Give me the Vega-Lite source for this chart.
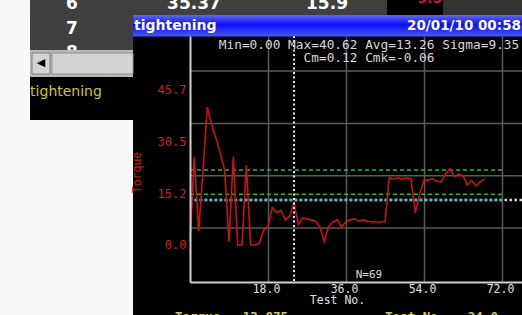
{
  "$schema": "https://vega.github.io/schema/vega-lite/v6.json",
  "width": 332,
  "height": 246,
  "autosize": {"type": "none"},
  "padding": {"left": 190, "top": 36, "right": 0, "bottom": 33},
  "background": "#000000",
  "config": {"view": {"stroke": null}},
  "datasets": {
    "torque": [
      {"test": 0, "torque": 1.0}, {"test": 1, "torque": 26.0}, {"test": 2, "torque": 4.0}, {"test": 3, "torque": 22.0},
      {"test": 4, "torque": 40.62}, {"test": 5, "torque": 35.5}, {"test": 6, "torque": 31.5}, {"test": 7, "torque": 27.0},
      {"test": 8, "torque": 22.0}, {"test": 9, "torque": 1.0}, {"test": 10, "torque": 26.0}, {"test": 11, "torque": 0.0},
      {"test": 12, "torque": 0.0}, {"test": 13, "torque": 23.6}, {"test": 14, "torque": 0.0}, {"test": 15, "torque": 0.0},
      {"test": 16, "torque": 0.5}, {"test": 17, "torque": 4.4}, {"test": 18, "torque": 5.5}, {"test": 19, "torque": 11.0},
      {"test": 20, "torque": 9.5}, {"test": 21, "torque": 10.3}, {"test": 22, "torque": 7.4}, {"test": 23, "torque": 8.5},
      {"test": 24, "torque": 12.5}, {"test": 25, "torque": 6.0}, {"test": 26, "torque": 8.0}, {"test": 27, "torque": 7.7},
      {"test": 28, "torque": 7.4}, {"test": 29, "torque": 7.0}, {"test": 30, "torque": 5.3}, {"test": 31, "torque": 1.0},
      {"test": 32, "torque": 5.5}, {"test": 33, "torque": 6.8}, {"test": 34, "torque": 7.4}, {"test": 35, "torque": 5.3},
      {"test": 36, "torque": 7.0}, {"test": 37, "torque": 7.4}, {"test": 38, "torque": 7.7}, {"test": 39, "torque": 7.0},
      {"test": 40, "torque": 7.4}, {"test": 41, "torque": 7.0}, {"test": 42, "torque": 6.8}, {"test": 43, "torque": 6.8},
      {"test": 44, "torque": 6.8}, {"test": 45, "torque": 7.0}, {"test": 46, "torque": 19.8}, {"test": 47, "torque": 19.5},
      {"test": 48, "torque": 19.8}, {"test": 49, "torque": 19.5}, {"test": 50, "torque": 19.8}, {"test": 51, "torque": 19.5},
      {"test": 52, "torque": 9.5}, {"test": 53, "torque": 15.0}, {"test": 54, "torque": 19.0}, {"test": 55, "torque": 19.2},
      {"test": 56, "torque": 19.5}, {"test": 57, "torque": 18.8}, {"test": 58, "torque": 18.6}, {"test": 59, "torque": 21.0},
      {"test": 60, "torque": 22.5}, {"test": 61, "torque": 20.2}, {"test": 62, "torque": 20.8}, {"test": 63, "torque": 20.5},
      {"test": 64, "torque": 17.7}, {"test": 65, "torque": 19.0}, {"test": 66, "torque": 17.4}, {"test": 67, "torque": 18.6},
      {"test": 68, "torque": 19.5}
    ],
    "hgrid": [{"level": 5.01}, {"level": 20.43}, {"level": 35.85}, {"level": 51.27}],
    "limits": [{"limit": "upper", "torque": 22.1, "from": 0, "to": 72}, {"limit": "lower", "torque": 14.95, "from": 0, "to": 72}],
    "average": [{"torque": 13.26, "from": 0, "to": 72}],
    "cursor": [{"test": 24.0, "torque": 13.26}]
  },
  "layer": [
    {
      "data": {"name": "hgrid"},
      "mark": {"type": "rule", "color": "#5a5a5a", "strokeWidth": 1.5},
      "encoding": {
        "y": {"field": "level", "type": "quantitative", "scale": {"domain": [-10.91, 61.61], "nice": false, "zero": false}}
      }
    },
    {
      "data": {"name": "limits"},
      "mark": {"type": "rule", "color": "#2cb82c", "strokeWidth": 1.5, "strokeDash": [4, 3]},
      "encoding": {
        "x": {"field": "from", "type": "quantitative", "scale": {"domain": [0, 76.62], "nice": false, "zero": false}},
        "x2": {"field": "to"},
        "y": {"field": "torque", "type": "quantitative", "scale": {"domain": [-10.91, 61.61], "nice": false, "zero": false}}
      }
    },
    {
      "data": {"name": "cursor"},
      "mark": {"type": "rule", "color": "#d8d8d8", "strokeWidth": 2.5, "strokeDash": [2.5, 2.5]},
      "encoding": {
        "y": {"field": "torque", "type": "quantitative", "scale": {"domain": [-10.91, 61.61], "nice": false, "zero": false}}
      }
    },
    {
      "data": {"name": "average"},
      "mark": {"type": "rule", "color": "#30c4d4", "strokeWidth": 2.5, "strokeDash": [2.5, 2.5]},
      "encoding": {
        "x": {"field": "from", "type": "quantitative", "scale": {"domain": [0, 76.62], "nice": false, "zero": false}},
        "x2": {"field": "to"},
        "y": {"field": "torque", "type": "quantitative", "scale": {"domain": [-10.91, 61.61], "nice": false, "zero": false}}
      }
    },
    {
      "data": {"name": "torque"},
      "mark": {"type": "line", "color": "#c81414", "strokeWidth": 1.6},
      "encoding": {
        "x": {
          "field": "test", "type": "quantitative",
          "scale": {"domain": [0, 76.62], "nice": false, "zero": false},
          "axis": {
            "values": [18, 36, 54, 72], "format": ".1f", "grid": true, "gridColor": "#5a5a5a", "gridWidth": 1.5,
            "ticks": false, "domainColor": "#d0d0d0", "domainWidth": 2,
            "labelColor": "#e0e0e0", "labelFont": "DejaVu Sans Mono", "labelFontSize": 11.5, "labelPadding": 1, "labelFlush": false, "labelOffset": -2,
            "title": "Test No.", "titleColor": "#e0e0e0", "titleFont": "DejaVu Sans Mono", "titleFontSize": 11.5, "titleFontWeight": "normal",
            "titleX": 147, "titleY": 18.5, "titleBaseline": "middle"
          }
        },
        "y": {
          "field": "torque", "type": "quantitative",
          "scale": {"domain": [-10.91, 61.61], "nice": false, "zero": false},
          "axis": {
            "values": [0, 15.2, 30.5, 45.7], "format": ".1f", "grid": false, "ticks": false,
            "domainColor": "#d0d0d0", "domainWidth": 2,
            "labelColor": "#d81c1c", "labelFont": "DejaVu Sans Mono", "labelFontSize": 12, "labelPadding": 4,
            "title": "Torque", "titleColor": "#d81c1c", "titleFont": "DejaVu Sans Mono", "titleFontSize": 11.5, "titleFontWeight": "normal",
            "titleX": -53, "titleY": 136, "titleBaseline": "middle", "zindex": 1
          }
        }
      }
    },
    {
      "data": {"name": "cursor"},
      "mark": {"type": "rule", "color": "#e8e8e8", "strokeWidth": 2, "strokeDash": [2, 2.5]},
      "encoding": {
        "x": {"field": "test", "type": "quantitative", "scale": {"domain": [0, 76.62], "nice": false, "zero": false}}
      }
    },
    {
      "data": {"values": [{"label": "Min=0.00 Max=40.62 Avg=13.26 Sigma=9.35\nCm=0.12 Cmk=-0.06"}]},
      "mark": {"type": "text", "color": "#d8d8d8", "font": "DejaVu Sans Mono", "fontSize": 12.8, "baseline": "top", "align": "center", "lineBreak": "\n", "lineHeight": 13.5, "clip": false},
      "encoding": {"x": {"datum": 41.31}, "y": {"datum": 60.73}, "text": {"field": "label"}}
    },
    {
      "data": {"values": [{"label": "N=69"}]},
      "mark": {"type": "text", "color": "#d8d8d8", "font": "DejaVu Sans Mono", "fontSize": 11, "baseline": "middle", "align": "center", "clip": false},
      "encoding": {"x": {"datum": 41.31}, "y": {"datum": -8.7}, "text": {"field": "label"}}
    },
    {
      "data": {"values": [{"label": "Torque = 13.875"}]},
      "mark": {"type": "text", "color": "#d2d22a", "font": "DejaVu Sans Mono", "fontSize": 12.5, "fontWeight": "bold", "baseline": "middle", "align": "center", "clip": false},
      "encoding": {"x": {"datum": 9.58}, "y": {"datum": -21.2}, "text": {"field": "label"}}
    },
    {
      "data": {"values": [{"label": "Test No. = 24.0"}]},
      "mark": {"type": "text", "color": "#d2d22a", "font": "DejaVu Sans Mono", "fontSize": 12.5, "fontWeight": "bold", "baseline": "middle", "align": "center", "clip": false},
      "encoding": {"x": {"datum": 58.04}, "y": {"datum": -21.2}, "text": {"field": "label"}}
    },
    {
      "data": {"values": [{"panel": "table strip"}]},
      "mark": {"type": "rect", "color": "#404040", "clip": false},
      "encoding": {"x": {"datum": -36.92}, "x2": {"datum": 45.46}, "y": {"datum": 72.23}, "y2": {"datum": 67.8}}
    },
    {
      "data": {"values": [{"panel": "table strip right"}]},
      "mark": {"type": "rect", "color": "#333333", "clip": false},
      "encoding": {"x": {"datum": 58.38}, "x2": {"datum": 76.62}, "y": {"datum": 72.23}, "y2": {"datum": 67.8}}
    },
    {
      "data": {"values": [{"panel": "table left"}]},
      "mark": {"type": "rect", "color": "#404040", "clip": false},
      "encoding": {"x": {"datum": -36.92}, "x2": {"datum": -13.15}, "y": {"datum": 72.23}, "y2": {"datum": 57.49}}
    },
    {
      "data": {"values": [{"label": "6"}]},
      "mark": {"type": "text", "color": "#ffffff", "font": "DejaVu Sans", "fontWeight": "bold", "fontSize": 17, "baseline": "middle", "align": "center", "clip": false},
      "encoding": {"x": {"datum": -27.23}, "y": {"datum": 71.05}, "text": {"field": "label"}}
    },
    {
      "data": {"values": [{"label": "7"}]},
      "mark": {"type": "text", "color": "#ffffff", "font": "DejaVu Sans", "fontWeight": "bold", "fontSize": 17, "baseline": "middle", "align": "center", "clip": false},
      "encoding": {"x": {"datum": -27.23}, "y": {"datum": 63.82}, "text": {"field": "label"}}
    },
    {
      "data": {"values": [{"label": "8"}]},
      "mark": {"type": "text", "color": "#ffffff", "font": "DejaVu Sans", "fontWeight": "bold", "fontSize": 17, "baseline": "middle", "align": "center", "clip": false},
      "encoding": {"x": {"datum": -27.23}, "y": {"datum": 56.6}, "text": {"field": "label"}}
    },
    {
      "data": {"values": [{"label": "35.37"}]},
      "mark": {"type": "text", "color": "#ffffff", "font": "DejaVu Sans", "fontWeight": "bold", "fontSize": 17, "baseline": "middle", "align": "center", "clip": false},
      "encoding": {"x": {"datum": 0.92}, "y": {"datum": 71.05}, "text": {"field": "label"}}
    },
    {
      "data": {"values": [{"label": "15.9"}]},
      "mark": {"type": "text", "color": "#ffffff", "font": "DejaVu Sans", "fontWeight": "bold", "fontSize": 17, "baseline": "middle", "align": "center", "clip": false},
      "encoding": {"x": {"datum": 31.62}, "y": {"datum": 71.05}, "text": {"field": "label"}}
    },
    {
      "data": {"values": [{"label": "9.5"}]},
      "mark": {"type": "text", "color": "#d01818", "font": "DejaVu Sans", "fontWeight": "bold", "fontSize": 14, "baseline": "middle", "align": "center", "clip": false},
      "encoding": {"x": {"datum": 55.38}, "y": {"datum": 72.4}, "text": {"field": "label"}}
    },
    {
      "data": {"values": [{"panel": "scrollbar"}]},
      "mark": {"type": "rect", "color": "#b8b8b8", "clip": false},
      "encoding": {"x": {"datum": -36.92}, "x2": {"datum": -13.15}, "y": {"datum": 57.49}, "y2": {"datum": 49.53}}
    },
    {
      "data": {"values": [{"panel": "scroll button"}]},
      "mark": {"type": "rect", "color": "#d4d4d4", "stroke": "#808080", "strokeWidth": 1, "clip": false},
      "encoding": {"x": {"datum": -36.46}, "x2": {"datum": -32.31}, "y": {"datum": 56.6}, "y2": {"datum": 50.41}}
    },
    {
      "data": {"values": [{"panel": "scroll thumb"}]},
      "mark": {"type": "rect", "color": "#d4d4d4", "stroke": "#909090", "strokeWidth": 1, "clip": false},
      "encoding": {"x": {"datum": -31.85}, "x2": {"datum": -13.15}, "y": {"datum": 56.6}, "y2": {"datum": 50.41}}
    },
    {
      "data": {"values": [{"label": "◀"}]},
      "mark": {"type": "text", "color": "#000000", "font": "DejaVu Sans", "fontSize": 11, "baseline": "middle", "align": "center", "clip": false},
      "encoding": {"x": {"datum": -34.38}, "y": {"datum": 53.51}, "text": {"field": "label"}}
    },
    {
      "data": {"values": [{"label": "tightening"}]},
      "mark": {"type": "text", "color": "#c8c828", "font": "DejaVu Sans", "fontSize": 14, "baseline": "middle", "align": "center", "clip": false},
      "encoding": {"x": {"datum": -28.62}, "y": {"datum": 45.1}, "text": {"field": "label"}}
    },
    {
      "data": {"values": [{"panel": "title bar"}]},
      "mark": {
        "type": "rect", "clip": false,
        "fill": {"gradient": "linear", "x1": 0, "y1": 0, "x2": 0, "y2": 1, "stops": [{"offset": 0, "color": "#6068ff"}, {"offset": 0.45, "color": "#0a10f4"}, {"offset": 1, "color": "#4a56ff"}]}
      },
      "encoding": {"x": {"datum": -13.15}, "x2": {"datum": 76.62}, "y": {"datum": 67.8}, "y2": {"datum": 61.47}}
    },
    {
      "data": {"values": [{"label": "tightening"}]},
      "mark": {"type": "text", "color": "#ffffff", "font": "DejaVu Sans", "fontWeight": "bold", "fontSize": 14, "baseline": "middle", "align": "left", "clip": false},
      "encoding": {"x": {"datum": -12.92}, "y": {"datum": 64.56}, "text": {"field": "label"}}
    },
    {
      "data": {"values": [{"label": "20/01/10 00:58"}]},
      "mark": {"type": "text", "color": "#ffffff", "font": "DejaVu Sans", "fontWeight": "bold", "fontSize": 13.5, "baseline": "middle", "align": "right", "clip": false},
      "encoding": {"x": {"datum": 76.38}, "y": {"datum": 64.56}, "text": {"field": "label"}}
    },
    {
      "data": {"values": [{"panel": "left margin"}]},
      "mark": {"type": "rect", "color": "#f8f8f8", "clip": false},
      "encoding": {"x": {"datum": -43.85}, "x2": {"datum": -36.92}, "y": {"datum": 72.23}, "y2": {"datum": -20.64}}
    },
    {
      "data": {"values": [{"panel": "lower left"}]},
      "mark": {"type": "rect", "color": "#f8f8f8", "clip": false},
      "encoding": {"x": {"datum": -43.85}, "x2": {"datum": -13.15}, "y": {"datum": 36.85}, "y2": {"datum": -20.64}}
    }
  ]
}
